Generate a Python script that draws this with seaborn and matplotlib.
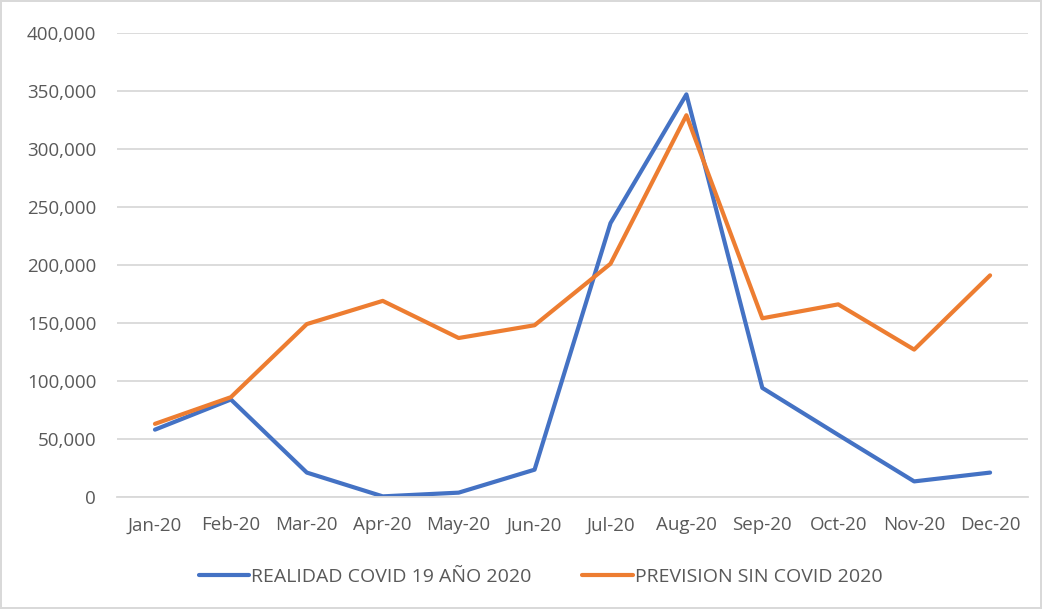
import numpy as np
import pandas as pd
import seaborn as sns
import matplotlib.pyplot as plt
from matplotlib.ticker import FuncFormatter, FixedLocator

months = ['Jan-20', 'Feb-20', 'Mar-20', 'Apr-20', 'May-20', 'Jun-20',
          'Jul-20', 'Aug-20', 'Sep-20', 'Oct-20', 'Nov-20', 'Dec-20']
realidad = [58000, 84000, 21000, 500, 3700, 23500,
            236000, 347000, 94000, 53500, 13400, 21000]
prevision = [63000, 86000, 149000, 169000, 137000, 148000,
             201000, 329000, 154000, 166000, 127000, 191000]
series_names = ['REALIDAD COVID 19 AÑO 2020', 'PREVISION SIN COVID 2020']

df = pd.concat([
    pd.DataFrame({'month': months, 'value': realidad, 'serie': series_names[0]}),
    pd.DataFrame({'month': months, 'value': prevision, 'serie': series_names[1]}),
])

sns.set_style('white')
plt.rcParams['font.family'] = ['Open Sans', 'DejaVu Sans']
text_color = '#595959'
grid_color = '#D9D9D9'

fig = plt.figure(figsize=(10.42, 6.09), dpi=100)
fig.patch.set_edgecolor(grid_color)
fig.patch.set_linewidth(1.5)
ax = fig.add_axes([0.1123, 0.184, 0.8743, 0.762])

sns.lineplot(data=df, x='month', y='value', hue='serie', sort=False,
             palette=['#4472C4', '#ED7D31'], linewidth=3, ax=ax)

ax.set_ylim(0, 400000)
ax.set_xlim(-0.5, 11.5)
ax.set_yticks(np.arange(0, 400001, 50000))
ax.yaxis.set_major_formatter(FuncFormatter(lambda v, p: f'{int(v):,}'))
ax.grid(axis='y', color=grid_color, linewidth=1.3)
ax.set_axisbelow(True)
for s in ['left', 'right', 'top']:
    ax.spines[s].set_visible(False)
ax.spines['bottom'].set_color(grid_color)
ax.spines['bottom'].set_linewidth(1.3)

ax.xaxis.set_minor_locator(FixedLocator(np.arange(-0.5, 12, 1)))
ax.tick_params(axis='x', which='minor', length=6, color=grid_color, width=1.3)
ax.tick_params(axis='x', which='major', length=0, pad=14, labelsize=13.5, labelcolor=text_color)
ax.tick_params(axis='y', length=0, pad=15, labelsize=13.5, labelcolor=text_color)
ax.set_xlabel('')
ax.set_ylabel('')

ax.legend(loc='upper center', bbox_to_anchor=(0.465, -0.115), ncol=2, frameon=False,
          fontsize=14, labelcolor=text_color, handlelength=2.6, handletextpad=0.1,
          columnspacing=2.6)

fig.savefig('out.png', dpi=100)
